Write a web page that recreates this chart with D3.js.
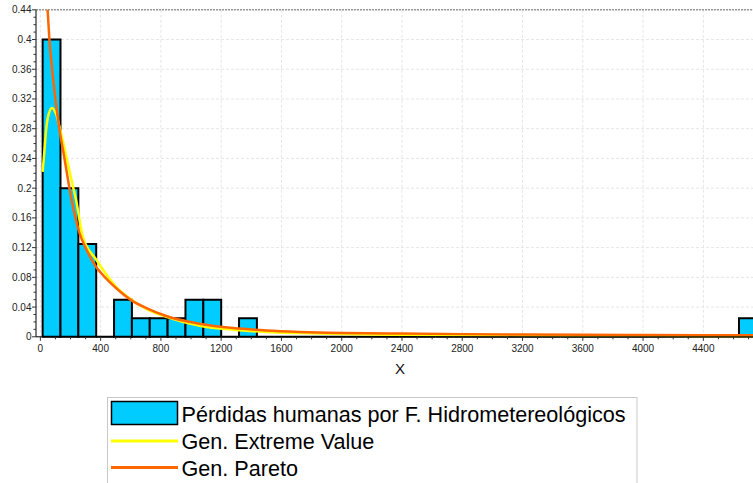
<!DOCTYPE html>
<html><head><meta charset="utf-8">
<script src="https://cdn.jsdelivr.net/npm/d3@7"></script>
<style>
html,body{margin:0;padding:0;background:#fff;}
svg{display:block;font-family:"Liberation Sans",Arial,sans-serif;}
</style></head>
<body><svg id="c" width="753" height="483"></svg>
<script>
// ---- data ----
const binStart = 15;
const binWidth = 118.5;
const binFreq = [0.4,0.2,0.125,0,0.05,0.025,0.025,0.025,0.05,0.05,0,0.025,
  0,0,0,0,0,0,0,0,0,0,0,0,0,0,0,0,0,0,0,0,0,0,0,0,0,0,0,0.025];
const gevX = [15,27,38,53,78,104,137,188,219,237,281,370,403,500,591,700,835,1056,1279,1500,1721,2000,2400,3200,4000,4780];
const gevY = [0.222,0.251,0.278,0.298,0.308,0.300,0.274,0.228,0.200,0.184,0.135,0.104,0.094,0.068,0.052,0.038,0.027,0.015,0.0095,0.0065,0.005,0.0037,0.0028,0.0018,0.0013,0.001];
const gpdX = [40,48,60,78,100,126,160,193,220,259,300,370,420,500,613,700,835,1056,1279,1500,1721,2000,2400,2800,3200,3600,4000,4400,4780];
const gpdY = [0.47,0.44,0.40,0.36,0.32,0.28,0.24,0.20,0.172,0.14,0.12,0.094,0.082,0.066,0.048,0.039,0.028,0.0175,0.0117,0.0085,0.0066,0.0052,0.0043,0.0036,0.0031,0.0026,0.0023,0.0021,0.0019];
const xTicks = [0,400,800,1200,1600,2000,2400,2800,3200,3600,4000,4400];
const yTicks = [0,0.04,0.08,0.12,0.16,0.2,0.24,0.28,0.32,0.36,0.4,0.44];
const yTickLabels = ["0","0.04","0.08","0.12","0.16","0.2","0.24","0.28","0.32","0.36","0.4","0.44"];
const legendLabels = ["Pérdidas humanas por F. Hidrometereológicos","Gen. Extreme Value","Gen. Pareto"];
const xTitle = "X";

// ---- layout ----
const svg = d3.select("#c");
const L = 36, R = 760, T = 9.8, B = 336.8;
const x = d3.scaleLinear().domain([-29, 4776]).range([L, R]);
const y = d3.scaleLinear().domain([0, 0.44]).range([B, T]);
const cBar = "#00CCFF", cGev = "#FFFF00", cGpd = "#FF6600";

svg.append("defs").append("clipPath").attr("id","pc")
  .append("rect").attr("x",L).attr("y",T).attr("width",R-L).attr("height",B-T+3);

// grid
const g = svg.append("g");
g.selectAll(".gx").data(xTicks).join("line")
  .attr("x1",d=>x(d)).attr("x2",d=>x(d)).attr("y1",T).attr("y2",B)
  .attr("stroke","#e6e6e6").attr("stroke-dasharray","3,2");
g.selectAll(".gy").data(yTicks.slice(1)).join("line")
  .attr("x1",L).attr("x2",753).attr("y1",d=>y(d)).attr("y2",d=>y(d))
  .attr("stroke","#e6e6e6").attr("stroke-dasharray","3,2");
// top border
svg.append("line").attr("x1",L).attr("x2",753).attr("y1",T).attr("y2",T)
  .attr("stroke","#999").attr("stroke-width",1.5).attr("stroke-dasharray","2,1");

// bars
const bins = binFreq.map((f,i)=>({x0:binStart+i*binWidth, x1:binStart+(i+1)*binWidth, f}));
const plot = svg.append("g").attr("clip-path","url(#pc)");
plot.selectAll(".bar").data(bins).join("path")
  .attr("d",d=>`M${x(d.x0)},${y(0)}V${y(d.f)}H${x(d.x1)}V${y(0)}Z`)
  .attr("fill",cBar).attr("stroke","#000").attr("stroke-width",2);

// curves
const line = d3.line().x(d=>x(d[0])).y(d=>y(d[1])).curve(d3.curveMonotoneX);
plot.append("path").datum(gevX.map((v,i)=>[v,gevY[i]])).attr("d",line)
  .attr("fill","none").attr("stroke",cGev).attr("stroke-width",2.5);
plot.append("path").datum(gpdX.map((v,i)=>[v,gpdY[i]])).attr("d",line)
  .attr("fill","none").attr("stroke",cGpd).attr("stroke-width",2.5);

// axes
const xAxis = svg.append("g").attr("transform",`translate(0,${B})`);
xAxis.append("line").attr("x1",L).attr("x2",753).attr("stroke","#000");
const xMinor = d3.range(0, 4777, 100);
xAxis.selectAll(".xm").data(xMinor).join("line")
  .attr("x1",d=>x(d)).attr("x2",d=>x(d)).attr("y1",0).attr("y2",d=>xTicks.includes(d)?4:2.5)
  .attr("stroke","#333");
xAxis.selectAll(".xl").data(xTicks).join("text")
  .attr("x",d=>x(d)).attr("y",15.5).attr("text-anchor","middle")
  .attr("font-size",10).attr("fill","#222").text(d=>d);
svg.append("text").attr("x",400).attr("y",374).attr("text-anchor","middle")
  .attr("font-size",15).attr("fill","#111").text(xTitle);

const yAxis = svg.append("g").attr("transform",`translate(${L},0)`);
yAxis.append("line").attr("y1",T).attr("y2",B).attr("stroke","#000");
const yMinor = d3.range(0, 45).map(i=>i/100);
yAxis.selectAll(".ym").data(yMinor).join("line")
  .attr("y1",d=>y(d)).attr("y2",d=>y(d)).attr("x1",0).attr("x2",(d,i)=>i%4===0?-4:-2.5)
  .attr("stroke","#333");
yAxis.selectAll(".yl").data(yTicks).join("text")
  .attr("x",-4.5).attr("y",d=>y(d)).attr("dy","0.35em").attr("text-anchor","end")
  .attr("font-size",10).attr("fill","#222").text((d,i)=>yTickLabels[i]);

// legend
const lg = svg.append("g");
lg.append("rect").attr("x",107.5).attr("y",397.5).attr("width",529.5).attr("height",100)
  .attr("fill","#fff").attr("stroke","#c8c8c8");
lg.append("rect").attr("x",111.5).attr("y",401.5).attr("width",66).attr("height",23)
  .attr("fill",cBar).attr("stroke","#000").attr("stroke-width",1.5);
lg.append("line").attr("x1",111).attr("x2",178).attr("y1",441).attr("y2",441)
  .attr("stroke",cGev).attr("stroke-width",3);
lg.append("line").attr("x1",111).attr("x2",178).attr("y1",467.5).attr("y2",467.5)
  .attr("stroke",cGpd).attr("stroke-width",3);
const lgY = [421.5, 448.5, 475.5];
lg.selectAll(".lt").data(legendLabels).join("text")
  .attr("transform",(d,i)=>`translate(181.5,${lgY[i]}) scale(1,1.06)`)
  .attr("font-size",21.6).attr("fill","#000").text(d=>d);
</script></body></html>
